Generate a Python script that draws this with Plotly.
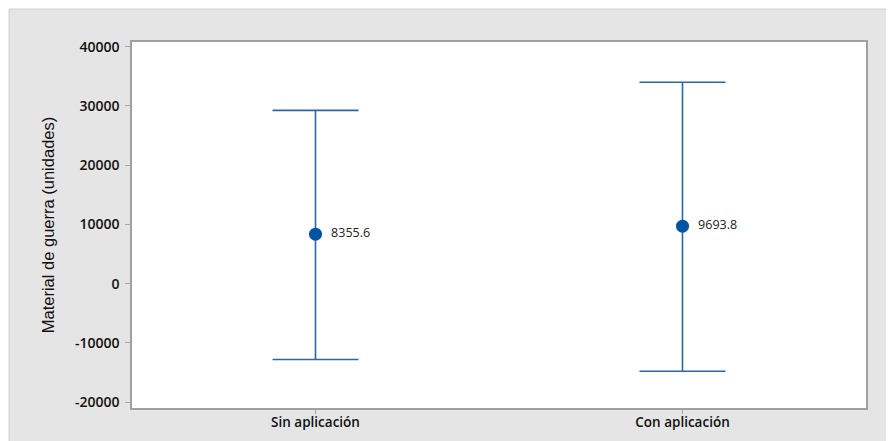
import plotly.graph_objects as go

categories = ["Sin aplicación", "Con aplicación"]
means = [8355.6, 9693.8]
upper = [29250, 34000]
lower = [-12800, -14800]
mean_labels = ["8355.6", "9693.8"]
y_ticks = [-20000, -10000, 0, 10000, 20000, 30000, 40000]

err_plus = [u - m for u, m in zip(upper, means)]
err_minus = [m - l for m, l in zip(means, lower)]

line_col = "#2a66ad"
mark_col = "#0054a6"

fig = go.Figure()
fig.add_trace(go.Scatter(
    x=[0, 1], y=means,
    mode="markers+text",
    text=["  " + t for t in mean_labels],
    textposition="middle right",
    textfont=dict(family="Open Sans", size=12.5, color="#222222"),
    marker=dict(color=mark_col, size=13),
    error_y=dict(type="data", symmetric=False, array=err_plus, arrayminus=err_minus,
                 color=line_col, thickness=1.6, width=43),
    cliponaxis=False,
    hoverinfo="skip",
    showlegend=False,
))

fig.update_layout(
    width=886, height=433,
    margin=dict(l=124, r=28, t=34, b=33, autoexpand=False),
    paper_bgcolor="white",
    plot_bgcolor="white",
    shapes=[
        dict(type="rect", xref="paper", yref="paper",
             x0=-0.1676, x1=1.06, y0=-0.12, y1=1.090,
             fillcolor="#e5e5e5", line=dict(color="#d2d2d2", width=1), layer="below"),
        dict(type="rect", xref="paper", yref="paper",
             x0=0, x1=1, y0=0, y1=1,
             fillcolor="white", line=dict(width=0), layer="below"),
    ],
    xaxis=dict(
        range=[-0.5, 1.5], automargin=False,
        tickmode="array", tickvals=[0, 1], ticktext=categories,
        showgrid=False, zeroline=False,
        showline=True, linecolor="#a0a0a0", linewidth=1.5, mirror=True,
        ticks="outside", ticklen=4, tickcolor="#a6a6a6",
        ticklabelstandoff=-3,
        tickfont=dict(family="Open Sans", size=13.5, color="#111111", weight=600),
    ),
    yaxis=dict(
        range=[-21000, 40800], automargin=False,
        tickmode="array", tickvals=y_ticks, ticktext=[str(v) for v in y_ticks],
        showgrid=False, zeroline=False,
        showline=True, linecolor="#a0a0a0", linewidth=1.5, mirror=True,
        ticks="outside", ticklen=5, tickcolor="#a6a6a6",
        ticklabelstandoff=3,
        tickfont=dict(family="Open Sans", size=14, color="#111111", weight=600),
        title=dict(text="Material de guerra (unidades)",
                   font=dict(family="Liberation Sans", size=16.5, color="#111111"),
                   standoff=16),
    ),
)

fig.write_html("out.html")
